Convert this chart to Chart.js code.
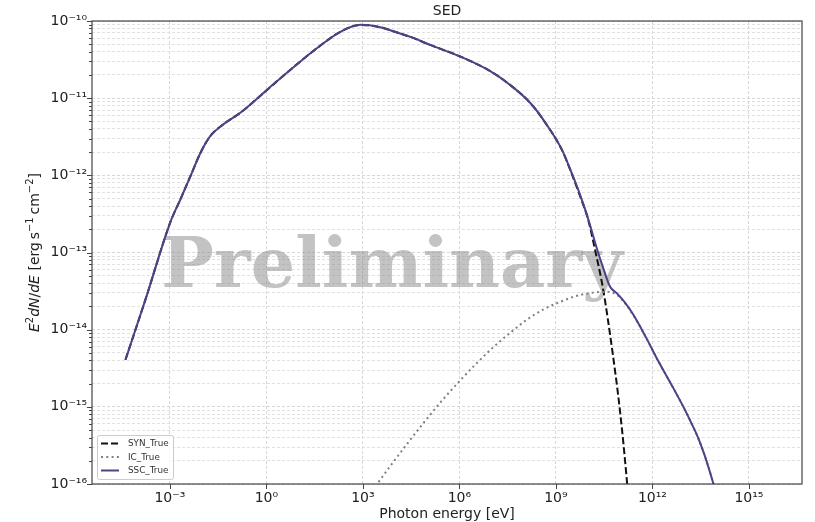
<!DOCTYPE html>
<html>
<head>
<meta charset="utf-8">
<script src="https://cdn.jsdelivr.net/npm/chart.js@4.4.0/dist/chart.umd.min.js"></script>
<style>
html, body { margin: 0; padding: 0; background: #fff; }
canvas { display: block; }
</style>
</head>
<body>
<canvas id="sed" width="815" height="522"></canvas>
<script>
// photon energy [eV] and E^2 dN/dE [erg s^-1 cm^-2]
const sscEnergy = [4.17e-5, 1.74e-4, 1.05e-3, 2.14e-3, 4.37e-3, 8.91e-3, 1.82e-2, 4.57e-2, 0.155, 1.07, 5.62, 38, 200, 832, 3.47e3, 7.08e3, 3.16e4, 1.23e5, 1.05e6, 9.12e6, 3.80e7, 1.58e8, 4.57e8, 1.55e9, 3.16e9, 5.62e9, 1e10, 1.91e10, 2.95e10, 4.79e10, 7.94e10, 1.41e11, 2.51e11, 6.31e11, 1.58e12, 3.98e12, 1e13, 1.58e13, 2.51e13, 3.98e13, 6.31e13, 1e14];
const sscFlux   = [4.07e-15, 2.45e-14, 2.51e-13, 4.90e-13, 9.77e-13, 1.95e-12, 3.24e-12, 4.57e-12, 6.46e-12, 1.29e-11, 2.34e-11, 4.47e-11, 7.24e-11, 8.91e-11, 8.32e-11, 7.59e-11, 6.17e-11, 4.90e-11, 3.47e-11, 2.24e-11, 1.48e-11, 8.71e-12, 4.90e-12, 2.14e-12, 1.05e-12, 5.62e-13, 2.75e-13, 1.10e-13, 6.31e-14, 3.63e-14, 2.95e-14, 2.24e-14, 1.58e-14, 7.94e-15, 3.80e-15, 1.91e-15, 9.33e-16, 6.31e-16, 4.17e-16, 2.51e-16, 1.38e-16, 7.08e-17];

const synEnergy = [4.17e-5, 1.74e-4, 1.05e-3, 2.14e-3, 4.37e-3, 8.91e-3, 1.82e-2, 4.57e-2, 0.155, 1.07, 5.62, 38, 200, 832, 3.47e3, 7.08e3, 3.16e4, 1.23e5, 1.05e6, 9.12e6, 3.80e7, 1.58e8, 4.57e8, 1.55e9, 3.16e9, 5.62e9, 1e10, 1.66e10, 2.95e10, 5.62e10, 1e11, 1.62e11, 2.24e11];
const synFlux   = [4.07e-15, 2.45e-14, 2.51e-13, 4.90e-13, 9.77e-13, 1.95e-12, 3.24e-12, 4.57e-12, 6.46e-12, 1.29e-11, 2.34e-11, 4.47e-11, 7.24e-11, 8.91e-11, 8.32e-11, 7.59e-11, 6.17e-11, 4.90e-11, 3.47e-11, 2.24e-11, 1.48e-11, 8.71e-12, 4.88e-12, 2.12e-12, 1.03e-12, 5.4e-13, 2.7e-13, 1.07e-13, 3.31e-14, 5.50e-15, 8.32e-16, 1.07e-16, 2e-17];

const icEnergy = [1.58e3, 3.02e3, 8.71e3, 2.95e4, 1e5, 3.16e5, 1.05e6, 3.55e6, 1.12e7, 3.80e7, 1.26e8, 3.98e8, 1.35e9, 4.57e9, 1.45e10, 3.89e10, 7.94e10, 1.41e11, 2.51e11, 6.31e11, 1.58e12, 3.98e12, 1e13, 1.58e13, 2.51e13, 3.98e13, 6.31e13, 1e14];
const icFlux   = [7.2e-17, 1.05e-16, 1.91e-16, 3.72e-16, 7.08e-16, 1.26e-15, 2.19e-15, 3.72e-15, 5.89e-15, 9.12e-15, 1.35e-14, 1.82e-14, 2.29e-14, 2.75e-14, 3.02e-14, 3.09e-14, 2.82e-14, 2.19e-14, 1.55e-14, 7.94e-15, 3.80e-15, 1.91e-15, 9.33e-16, 6.31e-16, 4.17e-16, 2.51e-16, 1.38e-16, 7.08e-17];

const seriesNames = ['SYN_True', 'IC_True', 'SSC_True'];
const xTickExps = [-3, 0, 3, 6, 9, 12, 15];
const yTickExps = [-16, -15, -14, -13, -12, -11, -10];

const FONT = '"DejaVu Sans", sans-serif';
const SUP = { '-': '\u207B', '0': '\u2070', '1': '\u00B9', '2': '\u00B2', '3': '\u00B3', '4': '\u2074', '5': '\u2075', '6': '\u2076', '7': '\u2077', '8': '\u2078', '9': '\u2079' };

function powLabel(exp) {
    return '10' + String(exp).split('').map(c => SUP[c]).join('');
}

function expOf(v) {
    const e = Math.log10(v);
    return Math.abs(e - Math.round(e)) < 1e-6 ? Math.round(e) : null;
}

function pts(xs, ys) {
    return xs.map((x, i) => ({ x: x, y: ys[i] }));
}

// draws watermark, frame, tick marks, titles and the legend
const decorations = {
    id: 'decorations',
    beforeDatasetsDraw(chart) {
        const ctx = chart.ctx;
        ctx.save();
        ctx.font = 'bold 70px "DejaVu Serif", serif';
        ctx.fillStyle = 'rgba(140,140,140,0.52)';
        ctx.textAlign = 'center';
        ctx.textBaseline = 'alphabetic';
        ctx.fillText('Preliminary', 392, 287);
        ctx.restore();
    },
    afterDraw(chart) {
        const ctx = chart.ctx;
        const a = chart.chartArea;
        ctx.save();

        // frame
        ctx.strokeStyle = '#444';
        ctx.lineWidth = 1.2;
        ctx.strokeRect(a.left, a.top, a.right - a.left, a.bottom - a.top);

        // tick marks
        ctx.lineWidth = 1;
        ctx.beginPath();
        chart.scales.y.ticks.forEach(t => {
            const py = Math.round(chart.scales.y.getPixelForValue(t.value)) + 0.5;
            const len = t.major ? 5 : 3;
            ctx.moveTo(a.left - len, py);
            ctx.lineTo(a.left, py);
        });
        chart.scales.x.ticks.forEach(t => {
            const px = Math.round(chart.scales.x.getPixelForValue(t.value)) + 0.5;
            ctx.moveTo(px, a.bottom);
            ctx.lineTo(px, a.bottom + 5);
        });
        ctx.stroke();

        // title and x axis title
        ctx.fillStyle = '#222';
        ctx.font = '14px ' + FONT;
        ctx.textAlign = 'center';
        ctx.textBaseline = 'middle';
        const cx = (a.left + a.right) / 2;
        ctx.fillText('SED', cx, 11);
        ctx.fillText('Photon energy [eV]', cx, 514);

        // y axis title with italic and superscript parts
        const segs = [
            { t: 'E', f: 'italic 14px ' + FONT, dy: 0 },
            { t: '2', f: '10px ' + FONT, dy: -5 },
            { t: 'dN', f: 'italic 14px ' + FONT, dy: 0 },
            { t: '/', f: '14px ' + FONT, dy: 0 },
            { t: 'dE', f: 'italic 14px ' + FONT, dy: 0 },
            { t: ' [erg\u2009s', f: '14px ' + FONT, dy: 0 },
            { t: '\u22121', f: '10px ' + FONT, dy: -5 },
            { t: '\u2009cm', f: '14px ' + FONT, dy: 0 },
            { t: '\u22122', f: '10px ' + FONT, dy: -5 },
            { t: ']', f: '14px ' + FONT, dy: 0 }
        ];
        let total = 0;
        segs.forEach(s => { ctx.font = s.f; s.w = ctx.measureText(s.t).width; total += s.w; });
        ctx.translate(35, (a.top + a.bottom) / 2);
        ctx.rotate(-Math.PI / 2);
        ctx.textAlign = 'left';
        let sx = -total / 2;
        segs.forEach(s => {
            ctx.font = s.f;
            ctx.fillText(s.t, sx, s.dy);
            sx += s.w;
        });
        ctx.setTransform(1, 0, 0, 1, 0, 0);

        // legend, lower left inside the axes
        const lx = 97.5, ly = 435.5, lw = 76, lh = 44;
        ctx.fillStyle = 'rgba(255,255,255,0.85)';
        ctx.strokeStyle = '#cccccc';
        ctx.lineWidth = 1;
        ctx.beginPath();
        ctx.roundRect(lx, ly, lw, lh, 2);
        ctx.fill();
        ctx.stroke();
        ctx.font = '8.8px ' + FONT;
        ctx.textAlign = 'left';
        ctx.textBaseline = 'middle';
        chart.data.datasets.forEach((ds, i) => {
            const y = 443.5 + i * 13.5;
            ctx.strokeStyle = ds.borderColor;
            ctx.lineWidth = ds.borderWidth;
            ctx.setLineDash(ds.borderDash || []);
            ctx.beginPath();
            ctx.moveTo(101, y);
            ctx.lineTo(119, y);
            ctx.stroke();
            ctx.setLineDash([]);
            ctx.fillStyle = '#333';
            ctx.fillText(ds.label, 128, y + 0.5);
        });
        ctx.restore();
    }
};

const gridColor = ctx => (ctx.tick && ctx.tick.major) ? '#d2d2d2' : '#dedede';

new Chart(document.getElementById('sed'), {
    type: 'line',
    data: {
        datasets: [
            {
                label: seriesNames[0],
                data: pts(synEnergy, synFlux),
                borderColor: '#111111',
                borderWidth: 2,
                borderDash: [7, 3],
                order: 3
            },
            {
                label: seriesNames[1],
                data: pts(icEnergy, icFlux),
                borderColor: '#808080',
                borderWidth: 2,
                borderDash: [2, 3.3],
                order: 2
            },
            {
                label: seriesNames[2],
                data: pts(sscEnergy, sscFlux),
                borderColor: '#4a4587',
                borderWidth: 2,
                order: 1
            }
        ]
    },
    options: {
        responsive: false,
        animation: false,
        devicePixelRatio: 1,
        layout: { padding: { top: 21, right: 13, left: 0, bottom: 0 } },
        elements: {
            point: { radius: 0 },
            line: { cubicInterpolationMode: 'monotone', fill: false }
        },
        plugins: {
            legend: { display: false },
            title: { display: false },
            tooltip: { enabled: false }
        },
        scales: {
            x: {
                type: 'logarithmic',
                min: 3.8e-6,
                max: 4.47e16,
                afterFit: s => { s.height = 38; },
                afterBuildTicks: s => {
                    s.ticks = xTickExps.map(e => ({ value: Math.pow(10, e), major: true }));
                },
                ticks: {
                    autoSkip: false,
                    maxRotation: 0,
                    padding: 6,
                    color: '#222',
                    font: { family: FONT, size: 14 },
                    callback: v => { const e = expOf(v); return e === null ? '' : powLabel(e); }
                },
                grid: { color: gridColor, lineWidth: 0.9, drawTicks: false },
                border: { display: false, dash: [3, 2] }
            },
            y: {
                type: 'logarithmic',
                min: 1e-16,
                max: 1e-10,
                afterFit: s => { s.width = 92; },
                afterBuildTicks: s => {
                    const list = [];
                    yTickExps.forEach((e, i) => {
                        if (i === yTickExps.length - 1) {
                            list.push({ value: Math.pow(10, e), major: true });
                            return;
                        }
                        for (let m = 1; m <= 9; m++) {
                            list.push({ value: m * Math.pow(10, e), major: m === 1 });
                        }
                    });
                    s.ticks = list;
                },
                ticks: {
                    autoSkip: false,
                    padding: 5,
                    color: '#222',
                    font: { family: FONT, size: 14 },
                    callback: v => { const e = expOf(v); return e === null ? '' : powLabel(e); }
                },
                grid: { color: gridColor, lineWidth: 0.9, drawTicks: false },
                border: { display: false, dash: [3, 2] }
            }
        }
    },
    plugins: [decorations]
});
</script>
</body>
</html>
